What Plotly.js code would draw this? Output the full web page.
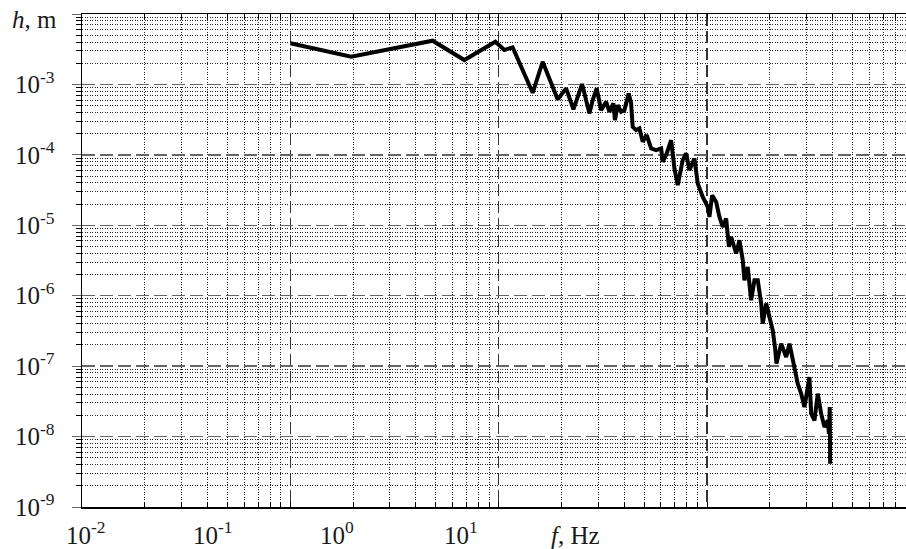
<!DOCTYPE html>
<html><head><meta charset="utf-8">
<script src="https://cdn.plot.ly/plotly-3.0.1.min.js"></script>
<style>html,body{margin:0;padding:0;background:#fff}#chart{width:906px;height:549px}</style>
</head><body><div id="chart"></div>
<script>
// Frequency (Hz) and amplitude h (m)
const freqHz = [0.1, 0.196, 0.482, 0.684, 0.964, 1.065, 1.167, 1.456, 1.626, 1.92, 2.107, 2.284, 2.514,
  2.725, 2.827, 2.954, 3.101, 3.279, 3.401, 3.554, 3.614, 3.727, 3.87, 4.013, 4.208, 4.321, 4.398, 4.567,
  4.737, 4.913, 5.135, 5.391, 5.697, 6.021, 6.129, 6.406, 6.726, 6.975, 7.234, 7.645, 7.937, 8.232, 8.7,
  9.025, 9.537, 10.08, 10.27, 10.58, 11.06, 11.47, 11.9, 12.35, 12.74, 13.05, 13.8, 14.31, 14.84, 15.12,
  15.68, 15.98, 16.28, 16.89, 17.52, 18.19, 18.51, 19.22, 19.93, 20.67, 21.18, 21.54, 22.69, 23.98, 24.87,
  26.28, 27.25, 28.3, 29.35, 31.02, 31.61, 32.78, 34.0, 35.3, 36.61, 37.97, 38.47, 38.82, 38.99];
const heightM = [3.835e-3, 2.472e-3, 4.173e-3, 2.219e-3, 4.039e-3, 3.079e-3, 3.362e-3, 7.61e-4, 2.099e-3,
  6.13e-4, 8.79e-4, 4.42e-4, 1.012e-3,
  3.88e-4, 5.99e-4, 8.79e-4, 4.32e-4, 5.67e-4, 4.09e-4, 5.38e-4, 3.11e-4, 5.09e-4, 4.09e-4, 4.32e-4, 7.46e-4,
  5.38e-4, 2.5e-4, 2.245e-4, 2.374e-4, 1.531e-4, 1.907e-4, 1.234e-4, 1.167e-4, 1.234e-4, 7.96e-5, 1.047e-4,
  1.619e-4, 6.41e-5, 3.71e-5, 8.41e-5, 1.047e-4, 6.06e-5, 8.89e-5, 3.93e-5, 2.53e-5, 1.824e-5, 1.315e-5,
  2.677e-5, 2.149e-5, 1.315e-5, 9.48e-6, 1.248e-5, 4.93e-6, 6.84e-6, 3.97e-6, 6.14e-6, 3.19e-6, 1.658e-6,
  2.562e-6, 1.331e-6, 8.61e-7, 1.658e-6, 1.658e-6, 7.73e-7, 4.02e-7, 7.73e-7, 4.99e-7, 3.23e-7, 1.868e-7,
  1.085e-7, 2.088e-7, 1.346e-7, 2.088e-7, 9.71e-8, 5.64e-8, 4.07e-8, 2.623e-8, 7.0e-8, 2.113e-8, 1.697e-8,
  4.07e-8, 2.113e-8, 1.363e-8, 1.697e-8, 1.098e-8, 2.623e-8, 4.11e-9];

// Tick labels
const yTickVals = [1e-9, 1e-8, 1e-7, 1e-6, 1e-5, 1e-4, 1e-3, 1e-2];
const yTickText = ['10<sup>-9</sup>', '10<sup>-8</sup>', '10<sup>-7</sup>', '10<sup>-6</sup>',
  '10<sup>-5</sup>', '10<sup>-4</sup>', '10<sup>-3</sup>', ''];
const xTickVals = [0.01, 0.1, 1, 10];
// x labels are printed (as in the original) at these frequencies
const xLabelAt = [0.0105, 0.0427, 0.168, 0.658];
const xLabelText = ['10<sup>-2</sup>', '10<sup>-1</sup>', '10<sup>0</sup>', '10<sup>1</sup>'];
const xTitleText = '<i>f</i>, Hz';
const xTitleAt = 2.33;
const yTitleText = '<i>h</i>, m';

const FONT = '"Liberation Serif", "Times New Roman", Times, serif';

// minor (2..9 x decade) positions for the dotted grid
function minorVals(lo, hi) {
  const v = [];
  for (let n = lo; n <= hi; n++) for (let k = 2; k <= 9; k++) v.push(k * Math.pow(10, n));
  return v;
}

const trace = {
  x: freqHz, y: heightM, type: 'scatter', mode: 'lines',
  line: {color: '#000', width: 4}, hoverinfo: 'skip'
};

const annotations = xLabelText.map((t, i) => ({
  x: Math.log10(xLabelAt[i]), xref: 'x', y: -0.053, yref: 'paper',
  text: t, showarrow: false, xanchor: 'center', yanchor: 'middle'
}));
annotations.push({x: Math.log10(xTitleAt), xref: 'x', y: -0.058, yref: 'paper',
  text: xTitleText, showarrow: false, xanchor: 'center', yanchor: 'middle'});
annotations.push({x: -0.0577, xref: 'paper', y: 0.989, yref: 'paper',
  text: yTitleText, showarrow: false, xanchor: 'center', yanchor: 'middle'});

const layout = {
  width: 906, height: 549,
  margin: {l: 82, r: 0, t: 14, b: 42, pad: 0},
  paper_bgcolor: '#fff', plot_bgcolor: '#fff', showlegend: false,
  font: {family: FONT, size: 25, color: '#1a1a1a'},
  xaxis: {
    type: 'log', range: [-2, 1.955], automargin: false,
    tickmode: 'array', tickvals: xTickVals,
    showgrid: true, gridcolor: '#333', gridwidth: 1.5, griddash: '12px,5px',
    showline: true, linecolor: '#000', linewidth: 1.5, mirror: 'ticks',
    ticks: 'inside', ticklen: 5, tickcolor: '#000', showticklabels: false, zeroline: false,
    minor: {tickmode: 'array', tickvals: minorVals(-2, 1), showgrid: true, gridcolor: '#222',
      gridwidth: 1, griddash: '1px,1.5px', ticks: 'inside', ticklen: 5, tickcolor: '#000'}
  },
  yaxis: {
    type: 'log', range: [-9, -2], automargin: false,
    tickmode: 'array', tickvals: yTickVals, ticktext: yTickText,
    showgrid: true, gridcolor: '#666', gridwidth: 1.5, griddash: '13px,5px',
    showline: true, linecolor: '#000', linewidth: 1.5, mirror: 'ticks',
    ticks: 'outside', ticklen: 9, tickcolor: '#666', ticklabelstandoff: 12, zeroline: false,
    minor: {tickmode: 'array', tickvals: minorVals(-9, -3), showgrid: true, gridcolor: '#222',
      gridwidth: 1, griddash: '1px,1.5px', ticks: 'outside', ticklen: 5, tickcolor: '#000'}
  },
  annotations: annotations
};

Plotly.newPlot('chart', [trace], layout, {staticPlot: true, displayModeBar: false});
</script>
</body></html>
